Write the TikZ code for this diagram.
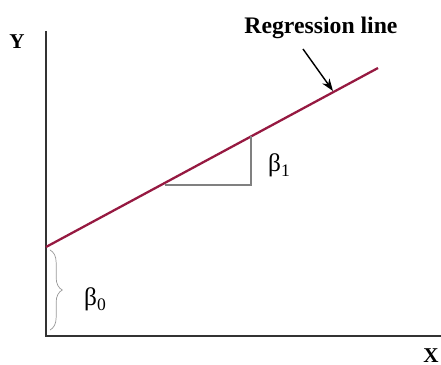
\documentclass[tikz,border=0pt]{standalone}
\usepackage{fontspec}
\setmainfont{Liberation Serif}
\usetikzlibrary{decorations.pathreplacing,arrows.meta}
\definecolor{regred}{RGB}{150,25,65}
\begin{document}
\begin{tikzpicture}[x=0.02cm,y=-0.02cm]
    \useasboundingbox (0,0) rectangle (441,365);

    % 座標軸
    \coordinate[] (O) at (46,336);
    \coordinate[] (Ytop) at (46,31);
    \coordinate[] (Xend) at (441,336);
    \draw[line width=1.2pt, black!80] (Ytop) -- (O) -- (Xend);
    \node[font=\bfseries\large] (ylab) at (17,42) {Y};
    \node[font=\bfseries\large] (xlab) at (431,356) {X};

    % 回帰直線
    \coordinate[] (L1) at (46,247);
    \coordinate[] (L2) at (378,68);
    \draw[line width=1.3pt, regred] (L1) -- (L2);

    % 傾きの三角形
    \coordinate[] (T1) at (165,185);
    \coordinate[] (T2) at (251,185);
    \coordinate[] (T3) at (251,136.5);
    \draw[thick, black!50] (T1) -- (T2) -- (T3);
    \node[font=\Large] (b1) at (279,165) {β\raisebox{-0.45ex}{\normalsize 1}};

    % 切片
    \coordinate[] (B1) at (50,250);
    \coordinate[] (B2) at (50,330);
    \draw[black!40, decorate, decoration={brace, amplitude=7pt}] (B1) -- (B2);
    \node[font=\Large] (b0) at (95,299) {β\raisebox{-0.45ex}{\normalsize 0}};

    % ラベルと矢印
    \node[font=\bfseries\fontsize{13.5}{16}\selectfont] (reglab) at (321,28) {Regression line};
    \coordinate[] (A1) at (303,49);
    \coordinate[] (A2) at (333,91);
    \draw[thick, -{Stealth[length=7pt,width=5pt]}] (A1) -- (A2);
  \end{tikzpicture}
\end{document}
